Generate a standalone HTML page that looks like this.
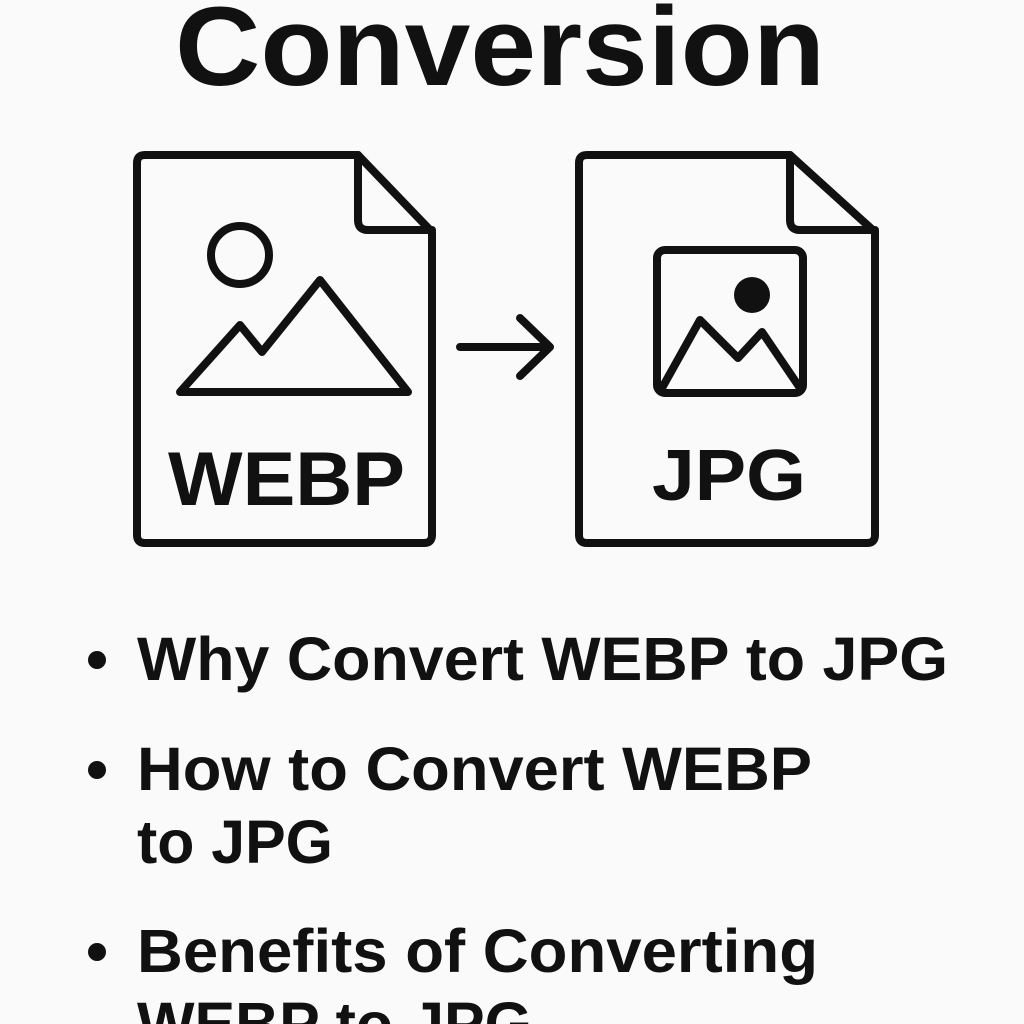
<!DOCTYPE html>
<html><head><meta charset="utf-8"><style>
html,body{margin:0;padding:0;background:#fafafa;}
body{width:1024px;height:1024px;overflow:hidden;position:relative;}
svg{position:absolute;left:0;top:0;}
text{font-family:"Liberation Sans",Arial,sans-serif;font-weight:bold;fill:#111;}
</style></head><body>
<svg width="1024" height="1024" viewBox="0 0 1024 1024">
<rect width="1024" height="1024" fill="#fafafa"/>
<text x="175" y="85" font-size="112" textLength="650" lengthAdjust="spacingAndGlyphs">Conversion</text>
<g fill="none" stroke="#111" stroke-width="8" stroke-linejoin="round" stroke-linecap="round">
<path d="M145 155 H358 L432 232 V535 Q432 543 424 543 H145 Q137 543 137 535 V163 Q137 155 145 155 Z"/>
<path d="M358 155 V220 Q358 230 368 230 H432"/>
<circle cx="240" cy="255" r="29"/>
<path d="M180 392 L240 325 L262 352 L320 280 L408 392 Z"/>
<path d="M460 347 H550 M520 318 L550 347 L520 376"/>
<path d="M587 155 H790 L875 232 V535 Q875 543 867 543 H587 Q579 543 579 535 V163 Q579 155 587 155 Z"/>
<path d="M790 155 V220 Q790 230 800 230 H875"/>
<rect x="657" y="250" width="146" height="143" rx="8"/>
<path d="M662 388 L700 320 L738 358 L762 332 L800 388"/>
</g>
<circle cx="752" cy="295" r="18" fill="#111"/>
<text x="168" y="505" font-size="76" textLength="237" lengthAdjust="spacingAndGlyphs">WEBP</text>
<text x="652" y="500" font-size="72" textLength="154" lengthAdjust="spacingAndGlyphs">JPG</text>
<g fill="#111">
<circle cx="97" cy="660" r="9"/>
<circle cx="97" cy="770" r="9"/>
<circle cx="97" cy="952" r="9"/>
</g>
<g font-size="61">
<text x="137" y="680" textLength="811" lengthAdjust="spacingAndGlyphs">Why Convert WEBP to JPG</text>
<text x="137" y="790" textLength="675" lengthAdjust="spacingAndGlyphs">How to Convert WEBP</text>
<text x="137" y="863" textLength="196" lengthAdjust="spacingAndGlyphs">to JPG</text>
<text x="137" y="972" textLength="681" lengthAdjust="spacingAndGlyphs">Benefits of Converting</text>
<text x="137" y="1045" textLength="395" lengthAdjust="spacingAndGlyphs">WEBP to JPG</text>
</g>
</svg>
</body></html>
